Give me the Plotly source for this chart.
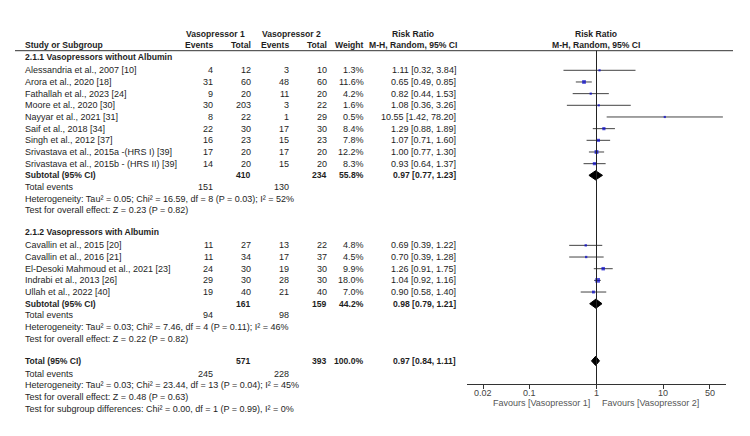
import math
import plotly.graph_objects as go

W, H = 750, 436
FONT = "Arial, 'Liberation Sans', sans-serif"
TXT = "#1e1e1e"
FS = 9
FSB = 8.6

# ---------------- data ----------------
g1_title = "2.1.1 Vasopressors without Albumin"
g1_names = ["Alessandria et al., 2007 [10]", "Arora et al., 2020 [18]", "Fathallah et al., 2023 [24]",
            "Moore et al., 2020 [30]", "Nayyar et al., 2021 [31]", "Saif et al., 2018 [34]",
            "Singh et al., 2012 [37]", "Srivastava et al., 2015a -(HRS I) [39]",
            "Srivastava et al., 2015b - (HRS II) [39]"]
g1_ev1 = [4, 31, 9, 30, 8, 22, 16, 17, 14]
g1_tot1 = [12, 60, 20, 203, 22, 30, 23, 20, 20]
g1_ev2 = [3, 48, 11, 3, 1, 17, 15, 17, 15]
g1_tot2 = [10, 60, 20, 22, 29, 30, 23, 20, 20]
g1_w = [1.3, 11.6, 4.2, 1.6, 0.5, 8.4, 7.8, 12.2, 8.3]
g1_rr = [1.11, 0.65, 0.82, 1.08, 10.55, 1.29, 1.07, 1.00, 0.93]
g1_lo = [0.32, 0.49, 0.44, 0.36, 1.42, 0.88, 0.71, 0.77, 0.64]
g1_hi = [3.84, 0.85, 1.53, 3.26, 78.20, 1.89, 1.60, 1.30, 1.37]
g1_sub = [410, 234, 55.8, 0.97, 0.77, 1.23]   # tot1, tot2, weight, rr, lo, hi
g1_events = [151, 130]
g1_het = "Heterogeneity: Tau² = 0.05; Chi² = 16.59, df = 8 (P = 0.03); I² = 52%"
g1_test = "Test for overall effect: Z = 0.23 (P = 0.82)"

g2_title = "2.1.2 Vasopressors with Albumin"
g2_names = ["Cavallin et al., 2015 [20]", "Cavallin et al., 2016 [21]",
            "El-Desoki Mahmoud et al., 2021 [23]", "Indrabi et al., 2013 [26]", "Ullah et al., 2022 [40]"]
g2_ev1 = [11, 11, 24, 29, 19]
g2_tot1 = [27, 34, 30, 30, 40]
g2_ev2 = [13, 17, 19, 28, 21]
g2_tot2 = [22, 37, 30, 30, 40]
g2_w = [4.8, 4.5, 9.9, 18.0, 7.0]
g2_rr = [0.69, 0.70, 1.26, 1.04, 0.90]
g2_lo = [0.39, 0.39, 0.91, 0.92, 0.58]
g2_hi = [1.22, 1.28, 1.75, 1.16, 1.40]
g2_sub = [161, 159, 44.2, 0.98, 0.79, 1.21]
g2_events = [94, 98]
g2_het = "Heterogeneity: Tau² = 0.03; Chi² = 7.46, df = 4 (P = 0.11); I² = 46%"
g2_test = "Test for overall effect: Z = 0.22 (P = 0.82)"

tot_sub = [571, 393, 100.0, 0.97, 0.84, 1.11]
tot_events = [245, 228]
tot_het = "Heterogeneity: Tau² = 0.03; Chi² = 23.44, df = 13 (P = 0.04); I² = 45%"
tot_test = "Test for overall effect: Z = 0.48 (P = 0.63)"
tot_diff = "Test for subgroup differences: Chi² = 0.00, df = 1 (P = 0.99), I² = 0%"

tick_vals = [0.02, 0.1, 1, 10, 50]
tick_text = ["0.02", "0.1", "1", "10", "50"]
fav_left = "Favours [Vasopressor 1]"
fav_right = "Favours [Vasopressor 2]"

# ---------------- layout helpers ----------------
Y0, DY = 70.3, 11.67
AXIS_Y = 384
def rowy(r):
    return Y0 + DY * r

X_NAME, X_EV1, X_TOT1, X_EV2, X_TOT2, X_W, X_CI = 23, 215, 253, 291, 329, 366, 458

annots = []
def txt(x, y, s, anchor="left", bold=False, color=TXT, size=None, xref="paper"):
    if size is None:
        size = FSB if bold else FS
    if bold:
        s = "<b>" + s + "</b>"
    annots.append(dict(x=(x / W) if xref == "paper" else x, y=y, xref=xref, yref="y", text=s,
                       showarrow=False, xanchor=anchor, yanchor="middle",
                       font=dict(family=FONT, size=size, color=color)))

ci_x, ci_y = [], []
sq_x, sq_y, sq_s = [], [], []
diamonds = []

def study_rows(start, names, ev1, tot1, ev2, tot2, w, rr, lo, hi):
    for i, n in enumerate(names):
        y = rowy(start + i)
        txt(X_NAME, y, n)
        txt(X_EV1, y, str(ev1[i]), "right")
        txt(X_TOT1, y, str(tot1[i]), "right")
        txt(X_EV2, y, str(ev2[i]), "right")
        txt(X_TOT2, y, str(tot2[i]), "right")
        txt(X_W, y, f"{w[i]:.1f}%", "right")
        txt(X_CI, y, f"{rr[i]:.2f} [{lo[i]:.2f}, {hi[i]:.2f}]", "right")
        ci_x.extend([lo[i], hi[i], None]); ci_y.extend([y, y, None])
        sq_x.append(rr[i]); sq_y.append(y); sq_s.append(max(2.2, 1.1 * w[i] ** 0.5))

def summary_row(r, label, sub):
    y = rowy(r)
    txt(X_NAME, y, label, bold=True)
    txt(X_TOT1, y, str(sub[0]), "right", bold=True)
    txt(X_TOT2, y, str(sub[1]), "right", bold=True)
    txt(X_W, y, f"{sub[2]:.1f}%", "right", bold=True)
    txt(X_CI, y, f"{sub[3]:.2f} [{sub[4]:.2f}, {sub[5]:.2f}]", "right", bold=True)
    diamonds.append((sub[3], sub[4], sub[5], y))

def events_row(r, ev):
    y = rowy(r)
    txt(X_NAME, y, "Total events")
    txt(X_EV1, y, str(ev[0]), "right")
    txt(X_EV2, y, str(ev[1]), "right")

# headers
txt(215, 33.5, "Vasopressor 1", "center", bold=True)
txt(291, 33.5, "Vasopressor 2", "center", bold=True)
txt(413, 33.5, "Risk Ratio", "center", bold=True)
txt(596, 33.5, "Risk Ratio", "center", bold=True)
txt(X_NAME, 45, "Study or Subgroup", bold=True)
txt(X_EV1, 45, "Events", "right", bold=True)
txt(X_TOT1, 45, "Total", "right", bold=True)
txt(X_EV2, 45, "Events", "right", bold=True)
txt(X_TOT2, 45, "Total", "right", bold=True)
txt(X_W, 45, "Weight", "right", bold=True)
txt(X_CI + 1, 45, "M-H, Random, 95% CI", "right", bold=True)
txt(596, 45, "M-H, Random, 95% CI", "center", bold=True)

# group 1
txt(X_NAME, 57, g1_title, bold=True)
study_rows(0, g1_names, g1_ev1, g1_tot1, g1_ev2, g1_tot2, g1_w, g1_rr, g1_lo, g1_hi)
summary_row(9, "Subtotal (95% CI)", g1_sub)
events_row(10, g1_events)
txt(X_NAME, rowy(11), g1_het)
txt(X_NAME, rowy(12), g1_test)

# group 2
txt(X_NAME, 232, g2_title, bold=True)
study_rows(15, g2_names, g2_ev1, g2_tot1, g2_ev2, g2_tot2, g2_w, g2_rr, g2_lo, g2_hi)
summary_row(20, "Subtotal (95% CI)", g2_sub)
events_row(21, g2_events)
txt(X_NAME, rowy(22), g2_het)
txt(X_NAME, rowy(23), g2_test)

# overall
summary_row(24.9, "Total (95% CI)", tot_sub)
events_row(26, tot_events)
txt(X_NAME, rowy(27), tot_het)
txt(X_NAME, rowy(28), tot_test)
txt(X_NAME, rowy(29), tot_diff)

# axis tick labels (log axis: annotation x in log10 units)
for v, t in zip(tick_vals, tick_text):
    txt(math.log10(v), 392.5, t, "center", color="#444", xref="x")

# favours labels
txt(592, 402.5, fav_left, "right", color="#555")
txt(600, 402.5, fav_right, "left", color="#555")

# ---------------- figure ----------------
fig = go.Figure()
fig.add_trace(go.Scatter(x=ci_x, y=ci_y, mode="lines", line=dict(color="#444", width=1),
                         hoverinfo="skip", showlegend=False))
fig.add_trace(go.Scatter(x=sq_x, y=sq_y, mode="markers",
                         marker=dict(symbol="square", color="#0000cc", size=sq_s, line=dict(width=0)),
                         hoverinfo="skip", showlegend=False))
for rr, lo, hi, y in diamonds:
    fig.add_trace(go.Scatter(x=[lo, rr, hi, rr, lo], y=[y, y - 4.6, y, y + 4.6, y], mode="lines",
                             fill="toself", fillcolor="black", line=dict(color="black", width=1),
                             hoverinfo="skip", showlegend=False))

shapes = [
    dict(type="line", xref="paper", yref="y", x0=15 / W, x1=733 / W, y0=50.7, y1=50.7,
         line=dict(color="#333", width=1)),
    dict(type="line", xref="x", yref="y", x0=1, x1=1, y0=50.7, y1=AXIS_Y,
         line=dict(color="#222", width=1)),
]

fig.update_layout(
    width=W, height=H, margin=dict(l=0, r=0, t=0, b=0),
    paper_bgcolor="white", plot_bgcolor="white",
    annotations=annots, shapes=shapes, showlegend=False,
    xaxis=dict(type="log", range=[-1.94, 1.94], domain=[467 / W, 726 / W],
               anchor="free", position=1 - AXIS_Y / H,
               showline=True, linecolor="#333", linewidth=1,
               ticks="outside", ticklen=4, tickcolor="#333",
               tickvals=tick_vals, showticklabels=False, showgrid=False, zeroline=False),
    yaxis=dict(range=[H, 0], domain=[0, 1], visible=False, showgrid=False, zeroline=False),
)

fig.write_html("out.html")
